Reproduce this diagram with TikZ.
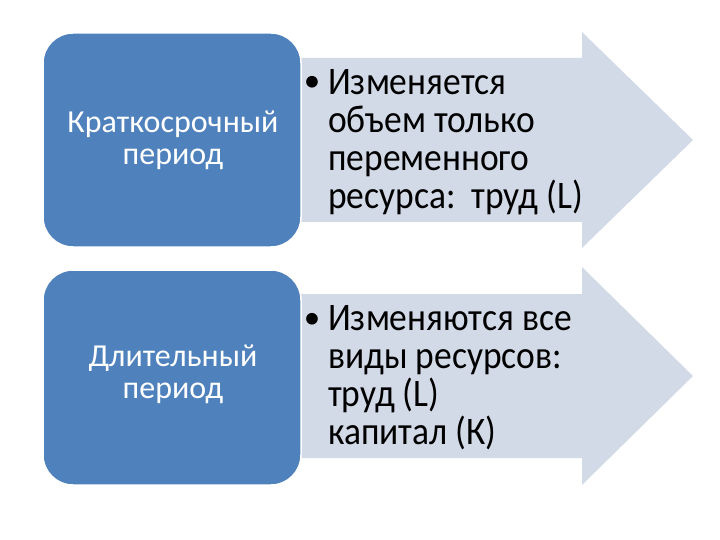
\documentclass[tikz,border=0pt]{standalone}
\usepackage{fontspec}
\setmainfont{Carlito}
\newfontfamily\arrfont[FakeStretch=0.91]{Carlito}
\definecolor{boxblue}{HTML}{4F81BD}
\definecolor{arrowfill}{HTML}{D3DAE7}
\tikzset{
  bluebox/.style={fill=boxblue, draw=white, line width=1.5pt, rounded corners=30pt},
  arrowshape/.style={fill=arrowfill, draw=none},
  boxtext/.style={text=white, align=center, anchor=base, font=\fontsize{32}{32}\selectfont, inner sep=0pt},
  arrtext/.style={text=black, align=left, anchor=base west, font=\arrfont\fontsize{39}{38}\selectfont, inner sep=0pt},
  bullettext/.style={text=black, anchor=base, font=\fontsize{33}{38}\selectfont, inner sep=0pt}
}
\begin{document}
\begin{tikzpicture}[x=1pt, y=-1pt]
\useasboundingbox (0,0) rectangle (720,540);
% top row
\path[arrowshape] (290,58) -- (582,58) -- (582,32) -- (693,140) -- (582,248) -- (582,222) -- (290,222) -- cycle;
\path[bluebox] (43,33) rectangle (301,247);
\node[boxtext] (b1) at (173,165) {Краткосрочный\\период};
\node[bullettext] (d1) at (312,92) {•};
\node[arrtext] (t1) at (328,208) {Изменяется\\объем только\\переменного\\ресурса:\ \ труд (L)};
% bottom row
\path[arrowshape] (290,294) -- (582,294) -- (582,267) -- (693,376) -- (582,485) -- (582,458) -- (290,458) -- cycle;
\path[bluebox] (43,270) rectangle (301,485);
\node[boxtext] (b2) at (173,398) {Длительный\\период};
\node[bullettext] (d2) at (312,328) {•};
\node[arrtext] (t2) at (328,444) {Изменяются все\\виды ресурсов:\\труд (L)\\капитал (К)};
\end{tikzpicture}
\end{document}
